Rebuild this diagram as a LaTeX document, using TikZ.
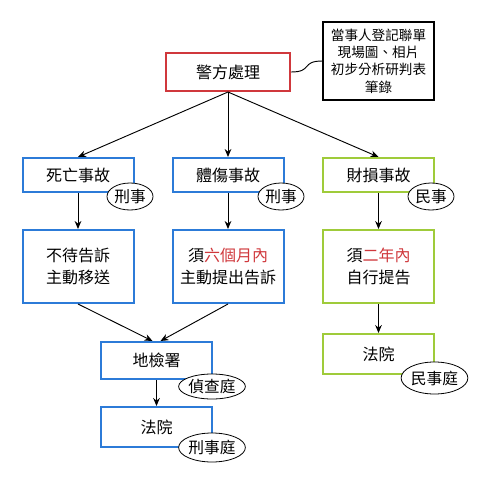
\documentclass[tikz,border=0pt]{standalone}
\usepackage{fontspec}
\setmainfont{Noto Sans CJK TC}
\usepackage{xcolor}
\usepackage{tikz}
\usetikzlibrary{shapes.geometric,arrows.meta}
\definecolor{police}{HTML}{D0383C}
\definecolor{crim}{HTML}{2C7BD8}
\definecolor{civil}{HTML}{9FCB3A}
\definecolor{warn}{HTML}{D0383C}
\tikzset{
  box/.style={draw, line width=1.5pt, fill=white, align=center, font=\fontsize{12}{16}\selectfont,
    minimum width=111*0.75pt, inner sep=0pt},
  tag/.style={draw=black, line width=0.6pt, fill=white, ellipse, inner sep=0pt, font=\fontsize{11.8}{13}\selectfont},
  note/.style={draw=black, line width=0.8pt, align=center, inner sep=0pt, font=\fontsize{10.2}{13}\selectfont,
    minimum width=111*0.75pt, minimum height=78*0.75pt},
  link/.style={line width=0.7pt, -{Stealth[length=6pt,width=5pt]}},
}

\begin{document}
\begin{tikzpicture}[x=0.75pt, y=-0.75pt]
  \useasboundingbox[fill=white] (0,0) rectangle (486,482);

  % top
  \node[box, draw=police, minimum width=124*0.75pt, minimum height=38*0.75pt] (hq) at (228,72) {警方處理};
  \node[note] (memo) at (378.5,61) {當事人登記聯單\\現場圖、相片\\初步分析研判表\\筆錄};
  \draw[line width=0.7pt] (hq.east) .. controls +(22,0) and +(-22,0) .. (memo.west);

  % accident type
  \node[box, draw=crim, minimum height=34*0.75pt] (death) at (78,175) {死亡事故};
  \node[box, draw=crim, minimum height=34*0.75pt] (hurt) at (228,175) {體傷事故};
  \node[box, draw=civil, minimum height=34*0.75pt] (loss) at (378.5,175) {財損事故};

  \node[tag, minimum width=46*0.75pt, minimum height=27*0.75pt] (tagA) at (130,196.5) {刑事};
  \node[tag, minimum width=46*0.75pt, minimum height=27*0.75pt] (tagB) at (281,196.5) {刑事};
  \node[tag, minimum width=46*0.75pt, minimum height=27*0.75pt] (tagC) at (431,196.5) {民事};

  % procedure
  \node[box, draw=crim, minimum height=73*0.75pt] (auto) at (78,266.5) {不待告訴\\主動移送};
  \node[box, draw=crim, minimum height=73*0.75pt] (sixm) at (228,266.5) {須\textcolor{warn}{六個月內}\\主動提出告訴};
  \node[box, draw=civil, minimum height=73*0.75pt] (twoy) at (378.5,266.5) {須\textcolor{warn}{二年內}\\自行提告};

  % courts
  \node[box, draw=crim, minimum height=37*0.75pt] (pros) at (156.5,360.5) {地檢署};
  \node[box, draw=crim, minimum height=40*0.75pt] (courtA) at (156.5,427) {法院};
  \node[box, draw=civil, minimum height=40*0.75pt] (courtB) at (378.5,354) {法院};

  \node[tag, minimum width=66*0.75pt, minimum height=25*0.75pt] (tagD) at (212,386.5) {偵查庭};
  \node[tag, minimum width=66*0.75pt, minimum height=29*0.75pt] (tagE) at (212,447.5) {刑事庭};
  \node[tag, minimum width=65*0.75pt, minimum height=32*0.75pt] (tagF) at (434.5,378) {民事庭};

  % arrows
  \draw[link] (hq.south) -- (death.north);
  \draw[link] (hq.south) -- (hurt.north);
  \draw[link] (hq.south) -- (loss.north);
  \draw[link] (death.south) -- (auto.north);
  \draw[link] (hurt.south) -- (sixm.north);
  \draw[link] (loss.south) -- (twoy.north);
  \draw[link] (auto.south) -- ([xshift=-4*0.75pt]pros.north);
  \draw[link] (sixm.south) -- ([xshift=4*0.75pt]pros.north);
  \draw[link] (pros.south) -- (courtA.north);
  \draw[link] (twoy.south) -- (courtB.north);
\end{tikzpicture}
\end{document}
